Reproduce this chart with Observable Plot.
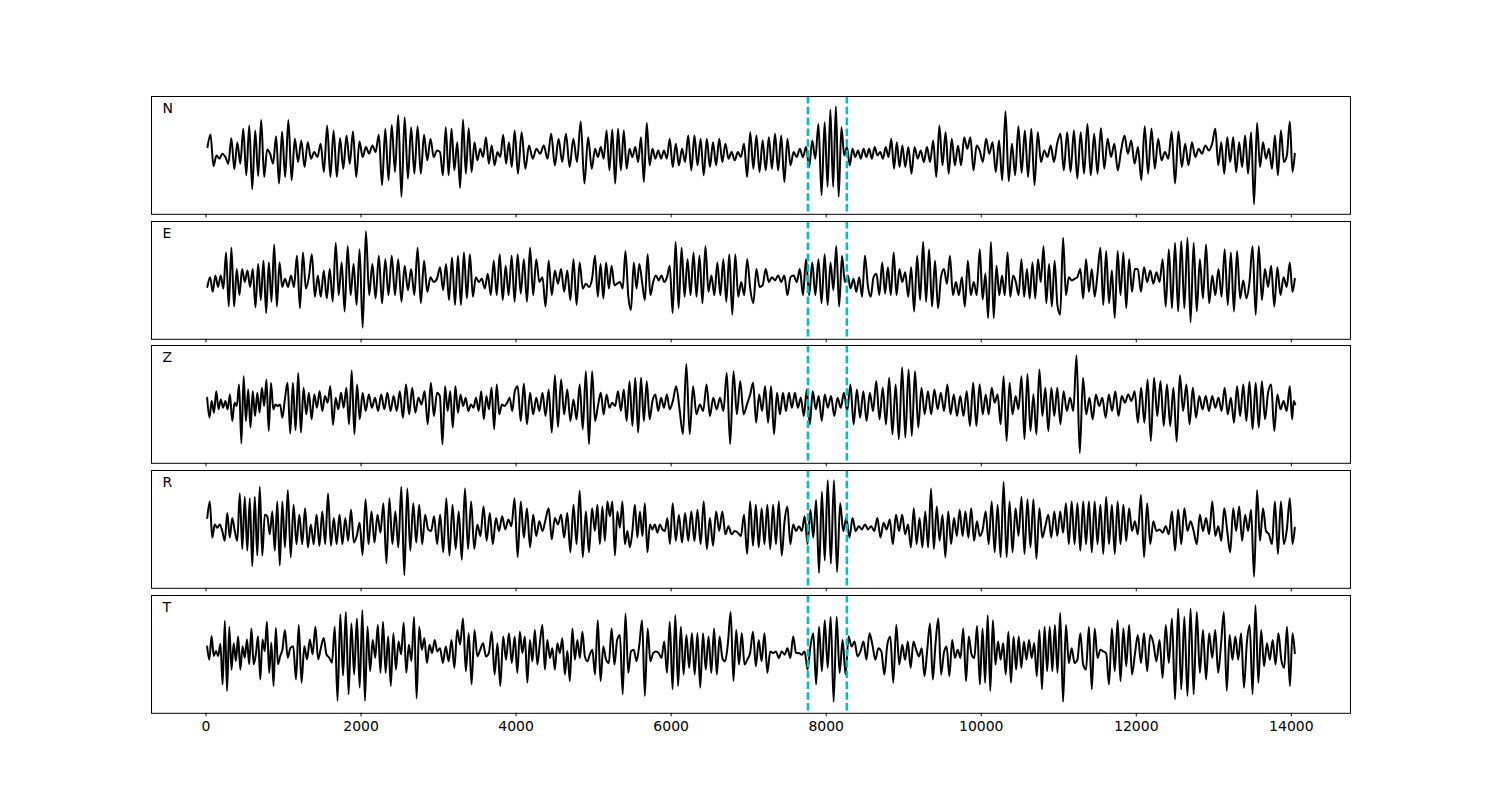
<!DOCTYPE html>
<html><head><meta charset="utf-8">
<script src="https://cdn.jsdelivr.net/npm/d3@7"></script>
<script src="https://cdn.jsdelivr.net/npm/@observablehq/plot@0.6"></script>
<style>
html,body{margin:0;padding:0;background:#fff;overflow:hidden;}
#chart{position:relative;width:1500px;height:800px;}
#chart svg{position:absolute;left:0;}
</style></head><body><div id="chart"></div>
<script>
// Component names (panel order, top to bottom)
const components = ["N", "E", "Z", "R", "T"];
// Each trace: successive peaks/troughs (normalised amplitude), grouped per 1000-sample block
const N = [
 [25,63,-32,0,-10,5,-5,-25,52,-42,40,-25,80,-60,90,-102,75,-62,107,-65,18,5,-25,58,-85,72],
 [-65,107,-75,50,-20,45,-35,40,-10,10,-5,35,-50,90,-65,75,-65,52,-40,60,-25,72,-65,42],
 [-5,25,5,30,10,62,-90,80,-75,92,-50,122,-125,115,-70,85,-55,88,-55,62,-15,50,-5,15],
 [10,-60,85,-60,80,-45,40,-98,108,-55,82,-50,40,-15,20,-5,55,-25,30,-30,10,-5,62,-25,40,-35,75],
 [-55,70,-40,30,-10,20,5,30,-10,65,-30,50,-20,65,-35,50,-20,102,-85,55,-40],
 [20,-5,25,-10,75,-45,78,-85,80,-45,75,-40,20,-5,25,-20,55,-80,98,-30,20,-10,15,-10,15,-10,50],
 [-35,35,-30,20,-20,60,-45,60,-30,50,-60,50,-35,40,-30,50,-20,35,-10,10,-15,10,-5,35,-65],
 [70,-40,60,-50,45,-45,55,-40,65,-45,60,-80,50,-30,10,-5,20,-5,25,-35,45,-10,95,-120,100],
 [-95,138,-95,148,-125,85,0,25,-30,20,-5,15,-10,20,-5,20,-10,25,0,10,-10,25,-5,50,-40,40,-35,30],
 [-35,25,-55,25,-10,15,-20,25,-20,45,-65,90,-30,70,-55,50,-30,30,-30,55,20,55,-45,30,15],
 [-20,50,5,40,-50,45,-75,133,-78,35,-60,88,-52,75,-65,80,-90,70,-20,15,-5,30,-20,35],
 [65,-45,70,-50,75,-70,70,-55,95,-60,65,-55,82,-40,50,-5,35,-45,15,60,5,45,-25],
 [25,-75,88,-55,80,-40,50,-15,10,-10,72,-85,72,-35,35,-30,40,-5,20,5,30,15,35],
 [80,-30,40,-55,55,-20,55,-50,40,-35,60,-55,70,-147,98,-35,40,-10,20,-40,60,-60,75,-20,0,102],
 [-50,5]
];
const E = [
 [-20,10,-35,15,-20,15,-25,85,-80,100,-80,35,-45,35,-5,30,-20,35,-83,50,-60,60,-100,55,-65,110,-80,55,-20],
 [5,-20,15,-20,75,-85,85,-25,10,80,-50,15,-50,30,-55,35,-65,115,-45,55,-95,105,-45,50,-75,95],
 [-145,150,-45,50,-55,75,-70,65,-45,75,-45,65,-65,45,-30,35,-45,100,-70,60,-35,10,-5,5],
 [40,-30,50,-60,70,-75,75,-75,85,-55,80,-50,10,-5,5,-25,20,-45,60,-45,80,-60,45,-45,75,-65],
 [80,-40,65,-65,100,-45,65,-5,10,-80,60,-45,30,-10,35,-35,30,-60,65,-75,55,-25,-10,-20,5],
 [75,-50,50,-55,55,-25,45,-15,-10,-5,-25,90,-45,-90,55,-25,50,-5,-60,80,-45,-5,15,0,15,-5,10,45],
 [-100,118,-85,100,-50,65,-45,85,-50,75,-70,105,-35,15,-45,55,-45,65,-65,80,-105,80,-50,-5,-45,65],
 [-25,-70,35,-20,-15,35,-5,10,0,15,-5,15,-45,10,15,-5,35,-45,65,-45,55,-45,65,-70,80],
 [-75,55,-30,105,-80,75,-5,15,-25,5,-35,10,-50,75,-15,-50,10,20,-45,55,-40,40,-45,85,-45,35,-5],
 [25,-50,40,-95,75,-60,118,-65,95,-80,60,-85,10,35,-10,75,-45,-5,-45,10,-80,60,-45,-5,-45,95],
 [-58,20,-115,118,-115,45,-45,15,-45,85,-50,15,-5,-45,65,-50,35,-55,55,-55,65,-5,105,-70,50,-80,60,-75],
 [-105,130,-45,10,0,5,10,35,-55,65,-35,35,-50,20,100,-75,90,-70,30,-115,90,-45,85,-85,65,-35,35],
 [35,-35,40,-5,30,-10,25,-5,65,-80,95,-85,115,-95,120,-85,130,-128,115,-95,65,-55,110,-70,15],
 [-45,35,-50,95,-75,85,-95,90,-55,0,-55,-5,105,-105,105,-60,35,-20,45,-80,40,-45,10,-20,55],
 [-35,5]
];
const Z = [
 [20,-40,10,-25,40,-15,15,-10,10,-15,30,-50,5,-5,60,-118,85,-50,45,-70,40,-35,35,-25,50,-5,75,-80,65,-15,0,-5,0,-40],
 [15,65,-88,65,-78,95,-85,50,-30,35,-45,30,-10,40,-20,25,5,55,-62,20,-15,35,-10,50,-60,102,-90,60,-45],
 [35,-20,30,-10,20,-20,30,-15,35,-20,25,-20,40,-40,60,-30,50,-25,20,0,40,-60,65,-35,35],
 [25,-120,55,-20,40,-70,55,-25,30,-5,20,-20,0,-10,20,-20,40,-45,25,-15,50,-75,60,-30,0,-5,5,20,-20,40],
 [55,-50,62,-60,35,-30,20,-20,35,-35,45,-85,88,-68,75,-30,45,-50,15,-45,60,-75,100,-120,100],
 [-50,-5,35,-30,30,-10,5,-5,40,-20,45,-50,70,-65,80,-85,80,-50,70,-45,10,30,-20,20,-10,30,-15],
 [10,55,-15,-90,122,-90,55,-30,0,-20,60,-35,20,-15,20,-20,95,-120,100,-30,70,-30,0],
 [30,65,-55,30,-20,55,-55,55,-90,35,-30,35,-20,35,-10,35,-10,20,-35,45,-60,40,-15,25,-50,30],
 [-10,25,-35,20,-10,35,-20,60,-60,45,-40,40,-50,35,-20,70,-45,50,-60,80,-90,60,-105,112],
 [-100,105,-95,100,-70,50,-30,40,-30,45,-15,35,-20,60,-30,30,-35,25,-35,40,-65,65,-65,60],
 [-30,30,-30,50,5,30,-60,85,-110,65,-30,25,-15,85,-105,92,-80,30,-90,105,-35,50,-80,50,-35,50],
 [-60,40,-20,20,-20,148,-147,80,-30,20,-45,30,-5,20,-40,30,-20,40,-35,25,5,30,10,40],
 [-55,50,-55,75,-110,80,-35,70,-65,60,-65,50,-112,88,-20,60,-60,50,-40,25,-15,25,-20,25],
 [-10,20,-20,50,-30,20,-55,55,-35,60,-50,68,-75,65,-70,70,-45,35,60,-80,30,-15,10,-20,55],
 [-45,10,0]
];
const R = [
 [35,85,-25,15,5,15,-5,-35,50,-25,35,-5,-35,110,-60,100,-65,95,-113,100,-80,130,-80,45,40,-15,55,-65,85,-110,85],
 [-55,120,-85,75,-45,45,-45,65,-55,15,-45,45,-50,55,-45,110,-50,35,-45,45,-45,35,-35,60,-40,-20,20],
 [-78,92,-45,55,-40,45,-10,80,-104,95,-45,55,-55,130,-140,125,-65,80,-40,75,-45,45,0,-5,40,-45],
 [45,-70,95,-80,75,-60,55,-93,125,-60,85,-60,15,-20,70,-35,50,-45,35,-5,40,0,30,10,95],
 [-85,85,-25,65,-55,45,-20,25,-5,30,65,-30,35,15,45,-25,50,-70,75,-45,118,-85,55,-70,65],
 [-5,75,-45,70,-35,85,40,85,-80,55,5,85,-45,-5,-55,-5,75,-25,55,-20,80,-70,15,0,15,-10,15,0,-5,35,-45],
 [80,-35,45,-40,50,-35,55,-35,60,-45,85,-60,35,-50,55,-5,55,-15,10,-15,-5,-10,-20,45,-75],
 [85,-50,75,-55,65,-45,75,-60,75,-45,85,-80,25,70,-45,15,-5,10,-5,40,-45,60,-25,90,-133,115,-95],
 [150,-105,150,-130,80,-5,35,-25,35,-5,10,0,15,0,10,-5,35,-25,20,0,30,-45,45,-5,45],
 [-15,15,-55,65,-45,35,-55,55,-55,125,-60,70,-35,45,-85,55,-45,35,-20,60,-20,55,-25,65,-35,25,-20],
 [0,55,-45,85,-70,75,-85,145,-85,85,-70,65,-20,100,-75,92,-55,92,-90,65,-25,10,45,-25,55,-20],
 [55,-10,80,-45,85,-45,80,-65,85,-45,85,-70,85,-45,75,-75,100,-45,75,-75,85,-45,75,-35,65,-5,25],
 [-15,105,-85,80,-45,25,-5,0,-10,10,-15,55,-65,60,-45,65,-5,25,-5,-45,45,-5,35,-15,85],
 [-20,10,-35,65,-5,-70,65,-5,70,-35,45,-5,60,-145,120,-35,65,-5,-15,-45,85,-75,85,-45,0,95],
 [-45,5]
];
const T = [
 [24,-16,56,-5,10,-5,32,-91,102,-111,84,-46,34,-20,54,-46,25,-10,45,-30,79,-30,0,55,-76,45,10,99,-56,35,-96,80,-30,-5,15],
 [74,-10,20,25,-76,89,-86,25,-15,45,0,84,-15,20,50,0,-10,-25,84,-141,122,-64,129,-121,94,-61,109,-101],
 [134,-141,84,-51,44,-10,89,-56,99,-56,54,-96,64,-46,39,0,96,-56,29,-20,114,-134,84,14,49,-26,29,4,44,9],
 [19,-26,24,-21,44,-41,74,30,109,-51,64,-91,74,-6,14,34,-6,4,69,-61,34,-96,54,-16,64,-26,54],
 [-56,69,4,54,-86,44,-21,74,-31,34,89,-46,44,-11,19,-46,34,4,49,-61,10,-81,79,-16,44,-11,69,-6,-21,0,14],
 [-61,104,-81,24,-16,-26,79,-31,44,59,-121,124,-56,9,14,-21,29,104,-126,79,-21,4,9,4,-11,39,-56,99],
 [-106,119,-96,84,-61,59,-41,64,-61,64,-101,64,-46,54,-56,79,-61,54,-11,-21,34,129,-81,74,-31,64,-31,-16],
 [4,69,-36,44,-21,64,-56,9,4,9,-11,9,-1,19,-11,54,4,4,-1,9,-46,24,64,-91,84,-51,104],
 [-41,114,-144,114,-56,44,-61,54,24,39,-6,9,39,-16,64,29,-16,19,9,-61,29,54,-86,89,-31,29],
 [-16,39,-41,39,14,-6,19,-66,14,94,-76,34,109,-61,4,24,-66,44,-11,14,-11,79,-81,54,0,-11,86,-91],
 [79,-86,119,-111,104,-31,39,-16,34,-61,69,-86,54,-46,54,-41,39,-16,44,-11,34,-66,74,-106,84,-51,84,-51,89,-56],
 [126,-144,89,-26,19,-26,-16,64,-31,-46,84,-106,79,-11,14,9,4,-91,79,-51,104,-81,79,-36,89,-61,-1],
 [59,-26,64,-51,59,34,-21,44,-71,89,-26,109,-136,139,-106,114,-126,139,-121,129,-56,74,-76,64,-11],
 [74,-56,29,129,-111,59,-16,54,-16,64,-101,34,89,-121,149,-86,74,-36,34,-16,44,-31,64,-16,-41,84,-96],
 [64,4]
];
const traces = {N, E, Z, R, T};
const xTicks = [0, 2000, 4000, 6000, 8000, 10000, 12000, 14000];
const windowMarks = [7765, 8267];   // dashed window start / end
const sampleEnd = 14060;            // last sample
const blockSize = 1000;

function toRows(blocks) {
  const rows = [];
  blocks.forEach((vals, k) => {
    const start = k * blockSize;
    const len = Math.min(blockSize, sampleEnd - start);
    vals.forEach((v, i) => rows.push({t: start + (i + 0.5) * len / vals.length, v}));
  });
  return rows;
}

const chart = document.getElementById("chart");
const panelTop0 = 96, panelStep = 124.67, panelH = 117.8;

components.forEach((c, idx) => {
  const rows = toRows(traces[c]);
  const maxAbs = d3.max(rows, d => Math.abs(d.v));
  const last = idx === components.length - 1;
  const mt = 2, mb = last ? 34 : 5;
  const svg = Plot.plot({
    width: 1500,
    height: panelH + mt + mb,
    marginLeft: 151, marginRight: 150, marginTop: mt, marginBottom: mb,
    style: {background: "transparent", fontFamily: "'DejaVu Sans', sans-serif", fontSize: "14px", color: "black", overflow: "visible"},
    x: {domain: [-703, 14763]},
    y: {domain: [-1.2 * maxAbs, 1.2 * maxAbs], axis: null},
    marks: [
      Plot.axisX({ticks: xTicks, tickSize: 3.5, tickPadding: 4, label: null,
        tickFormat: last ? (d => String(d)) : (() => ""), stroke: "black", strokeWidth: 1}),
      Plot.lineY(rows, {x: "t", y: "v", stroke: "black", strokeWidth: 2, curve: "monotone-x"}),
      Plot.ruleX(windowMarks, {stroke: "#00bfbf", strokeWidth: 2.6, strokeDasharray: "7.5,3.3"}),
      Plot.frame({stroke: "black", strokeWidth: 1}),
      Plot.text([c], {frameAnchor: "top-left", dx: 11, dy: 12, textAnchor: "start", lineAnchor: "middle",
        fontSize: 14, fill: "black"})
    ]
  });
  svg.style.top = (panelTop0 + idx * panelStep - mt) + "px";
  chart.appendChild(svg);
});
</script></body></html>
